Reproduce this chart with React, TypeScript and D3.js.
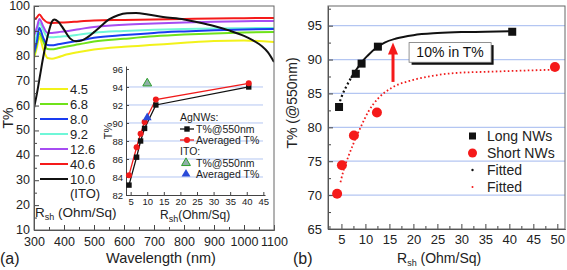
import React, { useRef, useEffect } from "react";
import * as d3 from "d3";

const FONT = "'Liberation Sans', Arial, sans-serif";

// ---- panel (a): transmittance spectra ----
const agWavelengths = [300, 310, 318, 330, 345, 360, 380, 400, 450, 500, 600, 700, 800, 900, 1000, 1100];
const t45 = [79, 83.5, 87.6, 83, 79.1, 78.8, 79.4, 80.2, 81.5, 82.5, 83.6, 84.4, 85.2, 85.9, 86.1, 85.5];
const t68 = [80, 85, 89.2, 86, 82.7, 82.6, 83.0, 83.5, 84.6, 85.7, 86.8, 87.8, 88.5, 89.0, 89.4, 89.6];
const t80 = [81, 86, 91.2, 87.5, 84.3, 84.2, 84.6, 85.0, 86.1, 87.2, 88.3, 89.2, 89.8, 90.3, 90.6, 90.8];
const t92 = [84, 89, 93.4, 90.5, 87.6, 87.4, 87.6, 87.8, 88.5, 89.3, 90.0, 90.5, 90.8, 91.0, 91.1, 91.2];
const t126 = [88, 91.5, 94.8, 92, 89.2, 89.2, 89.5, 89.8, 90.7, 91.6, 92.5, 93.0, 93.4, 93.7, 93.9, 94.0];
const t406 = [94.5, 95.5, 96.6, 94.8, 93.4, 93.2, 93.3, 93.4, 93.8, 94.2, 94.4, 94.6, 94.8, 95.0, 95.1, 95.2];

const itoWavelengths = [300, 310, 320, 330, 340, 350, 360, 368, 380, 400, 420, 440, 460, 480, 500, 520, 550, 580, 610, 640, 680, 730, 800, 850, 900, 950, 1000, 1030, 1060, 1080, 1100];
const tITO = [59, 65, 72, 79, 85, 90, 93.8, 94.6, 93.8, 90.5, 87, 85.8, 86.2, 87.6, 89.5, 91.6, 94.6, 96.3, 97.1, 97.2, 96.6, 95.6, 94.6, 93.4, 92.0, 90.2, 88, 86.2, 83.8, 81.4, 77.5];

const legendLabels = ["4.5", "6.8", "8.0", "9.2", "12.6", "40.6", "10.0"];
const seriesColors = ["#f2f21a", "#6fe21a", "#1a3cf0", "#6ff7d8", "#a64cf2", "#f51a1a", "#111111"];

// ---- inset: T% vs Rsh ----
const insetRsh = [4.5, 6.8, 8.0, 9.2, 12.6, 40.6];
const insetT550 = [83.1, 86.2, 88.0, 89.4, 92.0, 94.0];
const insetTavg = [84.2, 87.3, 88.8, 90.1, 92.6, 94.4];
const itoRsh = [10.0];
const itoT550 = [94.4];
const itoTavg = [90.6];

// ---- panel (b) ----
const longRsh = [4.5, 8.0, 9.2, 12.6, 40.6];
const longT = [83.0, 87.9, 89.4, 91.9, 94.1];
const shortRsh = [4.1, 5.1, 7.6, 12.4, 49.5];
const shortT = [70.2, 74.4, 78.8, 82.2, 88.9];
const longFitRsh = [4.4, 5.3, 6.0, 7.0, 8.0, 9.2, 10.5, 12.2, 14, 16.4, 20, 25, 30, 35, 40.6];
const longFitT = [83.2, 85.0, 86.0, 87.3, 88.4, 89.6, 90.6, 91.7, 92.5, 93.1, 93.6, 93.9, 94.05, 94.1, 94.2];
const shortFitRsh = [4.8, 5.5, 6.5, 7.5, 9, 10.6, 12.7, 15.4, 20, 24, 28.5, 35.6, 42, 49.5];
const shortFitT = [71.9, 73.8, 75.8, 77.6, 80.0, 82.3, 84.3, 85.8, 87.0, 87.6, 88.0, 88.2, 88.35, 88.5];
const legendB = ["Long NWs", "Short NWs", "Fitted", "Fitted"];

const App = () => {
  const container = useRef<SVGSVGElement | null>(null);

  useEffect(() => {
    createChart();
  });

  const createChart = () => {
    const svg = d3.select(container.current);
    svg.selectAll("*").remove();
    const axisColor = "#444";
    const grid = "#b4c6f2";

    const styleAxis = (g: any, size: number) => {
      g.attr("font-family", FONT).attr("font-size", size);
      g.selectAll("line,path").attr("stroke", axisColor);
      g.selectAll("text").attr("fill", "#222");
    };

    // ================= panel (a) =================
    const xA = d3.scaleLinear().domain([300, 1100]).range([34, 274]);
    const yA = d3.scaleLinear().domain([10, 100]).range([230, 6]);

    svg.append("clipPath").attr("id", "clipA").append("rect")
      .attr("x", 34).attr("y", 6).attr("width", 240).attr("height", 224);

    const specG = svg.append("g").attr("clip-path", "url(#clipA)");
    const specLine = d3.line<[number, number]>()
      .x((d) => xA(d[0])).y((d) => yA(d[1])).curve(d3.curveMonotoneX);

    const agSeries = [t45, t68, t80, t92, t126, t406];
    // draw order so that red lies on top
    [0, 1, 3, 2, 4, 5].forEach((i) => {
      specG.append("path")
        .datum(agWavelengths.map((w, j) => [w, agSeries[i][j]] as [number, number]))
        .attr("d", specLine)
        .attr("fill", "none")
        .attr("stroke", seriesColors[i])
        .attr("stroke-width", 2);
    });
    specG.append("path")
      .datum(itoWavelengths.map((w, j) => [w, tITO[j]] as [number, number]))
      .attr("d", specLine)
      .attr("fill", "none")
      .attr("stroke", seriesColors[6])
      .attr("stroke-width", 2);

    // axes (a)
    const axBot = svg.append("g").attr("transform", "translate(0,230)")
      .call(d3.axisBottom(xA).tickValues(d3.range(300, 1101, 100)).tickSize(-5).tickSizeOuter(0).tickPadding(7).tickFormat(d3.format("d")));
    styleAxis(axBot, 12.5);
    svg.append("g").attr("transform", "translate(0,230)")
      .call(d3.axisBottom(xA).tickValues(d3.range(350, 1100, 100)).tickSize(-3).tickSizeOuter(0).tickFormat(() => ""))
      .call((g: any) => styleAxis(g, 13));
    const axLeft = svg.append("g").attr("transform", "translate(34,0)")
      .call(d3.axisLeft(yA).tickValues(d3.range(10, 101, 10)).tickSize(-5).tickSizeOuter(0).tickPadding(4));
    styleAxis(axLeft, 12.5);
    axLeft.selectAll("text").attr("dy", "0.28em");
    svg.append("g").attr("transform", "translate(34,0)")
      .call(d3.axisLeft(yA).tickValues(d3.range(15, 100, 10)).tickSize(-3).tickSizeOuter(0).tickFormat(() => ""))
      .call((g: any) => styleAxis(g, 13));
    svg.append("rect").attr("x", 34).attr("y", 6).attr("width", 240).attr("height", 224)
      .attr("fill", "none").attr("stroke", "#666").attr("stroke-width", 1);

    // legend (a)
    const legA = svg.append("g").attr("font-family", FONT).attr("font-size", 13).attr("fill", "#222");
    legendLabels.forEach((lab, i) => {
      const y = 89 + i * 15;
      legA.append("line").attr("x1", 40).attr("x2", 68).attr("y1", y).attr("y2", y)
        .attr("stroke", seriesColors[i]).attr("stroke-width", 2);
      legA.append("text").attr("x", 70).attr("y", y + 5).text(lab);
    });
    legA.append("text").attr("x", 70).attr("y", 198).text("(ITO)");
    const rshA = legA.append("text").attr("x", 35).attr("y", 217).attr("font-size", 13.5);
    rshA.append("tspan").text("R");
    rshA.append("tspan").attr("font-size", 9).attr("dy", 3).text("sh");
    rshA.append("tspan").attr("dy", -3).text(" (Ohm/Sq)");

    // titles (a)
    svg.append("text").attr("transform", "translate(13,118) rotate(-90)")
      .attr("text-anchor", "middle").attr("font-family", FONT).attr("font-size", 14).attr("fill", "#222").text("T%");
    svg.append("text").attr("x", 161).attr("y", 263).attr("text-anchor", "middle")
      .attr("font-family", FONT).attr("font-size", 14.5).attr("fill", "#222").text("Wavelength (nm)");
    svg.append("text").attr("x", 0).attr("y", 264).attr("font-family", FONT).attr("font-size", 16).attr("fill", "#222").text("(a)");

    // ================= inset =================
    const xI = d3.scaleLinear().domain([3.6, 45.5]).range([126, 265]);
    const yI = d3.scaleLinear().domain([82, 96.33]).range([195, 66]);

    const insG = svg.append("g");
    d3.range(84, 95, 2).forEach((v) => {
      insG.append("line").attr("x1", 126).attr("x2", 263).attr("y1", yI(v)).attr("y2", yI(v))
        .attr("stroke", grid).attr("stroke-width", 1);
    });
    const iBot = insG.append("g").attr("transform", "translate(0,195)")
      .call(d3.axisBottom(xI).tickValues(d3.range(5, 46, 5)).tickSize(-3).tickSizeOuter(0).tickPadding(3));
    styleAxis(iBot, 9.5);
    const iLeft = insG.append("g").attr("transform", "translate(126,0)")
      .call(d3.axisLeft(yI).tickValues(d3.range(82, 97, 2)).tickSize(-3).tickSizeOuter(0).tickPadding(3));
    styleAxis(iLeft, 9.5);

    const insLine = d3.line<[number, number]>().x((d) => xI(d[0])).y((d) => yI(d[1]));
    insG.append("path").datum(insetRsh.map((r, i) => [r, insetT550[i]] as [number, number]))
      .attr("d", insLine).attr("fill", "none").attr("stroke", "#111").attr("stroke-width", 1.3);
    insG.append("path").datum(insetRsh.map((r, i) => [r, insetTavg[i]] as [number, number]))
      .attr("d", insLine).attr("fill", "none").attr("stroke", "#f01a1a").attr("stroke-width", 1.3);
    insG.selectAll(".isq").data(insetRsh).join("rect").attr("class", "isq")
      .attr("x", (d) => xI(d) - 2.7).attr("y", (d, i) => yI(insetT550[i]) - 2.7)
      .attr("width", 5.4).attr("height", 5.4).attr("fill", "#111");
    insG.selectAll(".icirc").data(insetRsh).join("circle").attr("class", "icirc")
      .attr("cx", (d) => xI(d)).attr("cy", (d, i) => yI(insetTavg[i])).attr("r", 3)
      .attr("fill", "#f01a1a");

    const tri = d3.symbol().type(d3.symbolTriangle).size(34);
    insG.selectAll(".itri1").data(itoRsh).join("path").attr("class", "itri1")
      .attr("d", tri).attr("transform", (d, i) => `translate(${xI(d)},${yI(itoTavg[i])})`)
      .attr("fill", "#2a4ad8");
    insG.selectAll(".itri2").data(itoRsh).join("path").attr("class", "itri2")
      .attr("d", tri).attr("transform", (d, i) => `translate(${xI(d)},${yI(itoT550[i])})`)
      .attr("fill", "#8fb0a8").attr("stroke", "#2fa02f").attr("stroke-width", 1);

    // inset legend
    const legI = insG.append("g").attr("font-family", FONT).attr("font-size", 10.5).attr("fill", "#222");
    legI.append("text").attr("x", 180).attr("y", 121).text("AgNWs:");
    legI.append("line").attr("x1", 180).attr("x2", 194).attr("y1", 129).attr("y2", 129).attr("stroke", "#111").attr("stroke-width", 1.3);
    legI.append("rect").attr("x", 184.3).attr("y", 126.3).attr("width", 5.4).attr("height", 5.4).attr("fill", "#111");
    legI.append("text").attr("x", 196).attr("y", 133).text("T%@550nm");
    legI.append("line").attr("x1", 180).attr("x2", 194).attr("y1", 140).attr("y2", 140).attr("stroke", "#f01a1a").attr("stroke-width", 1.3);
    legI.append("circle").attr("cx", 187).attr("cy", 140).attr("r", 3).attr("fill", "#f01a1a");
    legI.append("text").attr("x", 196).attr("y", 144).text("Averaged T%");
    legI.append("text").attr("x", 180).attr("y", 155).text("ITO:");
    legI.append("path").attr("d", tri).attr("transform", "translate(186,163)")
      .attr("fill", "#8fb0a8").attr("stroke", "#2fa02f").attr("stroke-width", 1);
    legI.append("text").attr("x", 196).attr("y", 167).text("T%@550nm");
    legI.append("path").attr("d", tri).attr("transform", "translate(186,174)").attr("fill", "#2a4ad8");
    legI.append("text").attr("x", 196).attr("y", 178).text("Averaged T%");

    const rshI = insG.append("text").attr("x", 160).attr("y", 219).attr("font-family", FONT).attr("font-size", 12).attr("fill", "#222");
    rshI.append("tspan").text("R");
    rshI.append("tspan").attr("font-size", 9).attr("dy", 3).text("sh");
    rshI.append("tspan").attr("dy", -3).text("(Ohm/Sq)");
    insG.append("text").attr("transform", "translate(112,131) rotate(-90)").attr("text-anchor", "middle")
      .attr("font-family", FONT).attr("font-size", 11).attr("fill", "#222").text("T%");

    // ================= panel (b) =================
    const xB = d3.scaleLinear().domain([2.2, 51.6]).range([328, 565]);
    const yB = d3.scaleLinear().domain([65, 97.9]).range([229, 6]);

    d3.range(70, 96, 5).forEach((v) => {
      svg.append("line").attr("x1", 328).attr("x2", 565).attr("y1", yB(v)).attr("y2", yB(v))
        .attr("stroke", grid).attr("stroke-width", 1.2);
    });

    const bBot = svg.append("g").attr("transform", "translate(0,229)")
      .call(d3.axisBottom(xB).tickValues(d3.range(5, 51, 5)).tickSize(-5).tickSizeOuter(0).tickPadding(6));
    styleAxis(bBot, 13);
    svg.append("g").attr("transform", "translate(0,229)")
      .call(d3.axisBottom(xB).tickValues(d3.range(2.5, 51, 5)).tickSize(-3).tickSizeOuter(0).tickFormat(() => ""))
      .call((g: any) => styleAxis(g, 13));
    const bLeft = svg.append("g").attr("transform", "translate(328,0)")
      .call(d3.axisLeft(yB).tickValues(d3.range(65, 96, 5)).tickSize(-5).tickSizeOuter(0).tickPadding(6));
    styleAxis(bLeft, 13);
    svg.append("g").attr("transform", "translate(328,0)")
      .call(d3.axisLeft(yB).tickValues(d3.range(67.5, 98, 5)).tickSize(-3).tickSizeOuter(0).tickFormat(() => ""))
      .call((g: any) => styleAxis(g, 13));
    svg.append("rect").attr("x", 328).attr("y", 6).attr("width", 237).attr("height", 223)
      .attr("fill", "none").attr("stroke", "#666").attr("stroke-width", 1);

    const fitLine = d3.line<[number, number]>().x((d) => xB(d[0])).y((d) => yB(d[1])).curve(d3.curveMonotoneX);
    const longFit = longFitRsh.map((r, i) => [r, longFitT[i]] as [number, number]);
    svg.append("path").datum(longFit.filter((d) => d[0] <= 7.1))
      .attr("d", fitLine).attr("fill", "none").attr("stroke", "#111").attr("stroke-width", 2.2)
      .attr("stroke-dasharray", "2 2.6");
    svg.append("path").datum(longFit.filter((d) => d[0] >= 7.0))
      .attr("d", fitLine).attr("fill", "none").attr("stroke", "#111").attr("stroke-width", 2);
    svg.append("path").datum(shortFitRsh.map((r, i) => [r, shortFitT[i]] as [number, number]))
      .attr("d", fitLine).attr("fill", "none").attr("stroke", "#f01a1a").attr("stroke-width", 1.8)
      .attr("stroke-dasharray", "1.6 2.4");

    svg.selectAll(".bsq").data(longRsh).join("rect").attr("class", "bsq")
      .attr("x", (d) => xB(d) - 4).attr("y", (d, i) => yB(longT[i]) - 4)
      .attr("width", 8).attr("height", 8).attr("fill", "#111");
    svg.selectAll(".bcirc").data(shortRsh).join("circle").attr("class", "bcirc")
      .attr("cx", (d) => xB(d)).attr("cy", (d, i) => yB(shortT[i])).attr("r", 5)
      .attr("fill", "#f51a1a");

    // arrow
    const arrowX = xB(15.75);
    const arrowY0 = yB(86.7);
    const arrowY1 = yB(92.5);
    svg.append("line").attr("x1", arrowX).attr("x2", arrowX).attr("y1", arrowY0).attr("y2", arrowY1 + 10)
      .attr("stroke", "#f51a1a").attr("stroke-width", 3);
    svg.append("path")
      .attr("d", `M${arrowX},${arrowY1} L${arrowX - 5},${arrowY1 + 12} L${arrowX + 5},${arrowY1 + 12} Z`)
      .attr("fill", "#f51a1a");

    // annotation box
    const bx0 = xB(19.1), bx1 = xB(36.2), by0 = yB(92.5), by1 = yB(89.6);
    svg.append("rect").attr("x", bx0 + 2.5).attr("y", by0 + 2.5).attr("width", bx1 - bx0).attr("height", by1 - by0).attr("fill", "#111");
    svg.append("rect").attr("x", bx0).attr("y", by0).attr("width", bx1 - bx0).attr("height", by1 - by0)
      .attr("fill", "#fff").attr("stroke", "#777").attr("stroke-width", 0.8);
    svg.append("text").attr("x", (bx0 + bx1) / 2).attr("y", (by0 + by1) / 2 + 5).attr("text-anchor", "middle")
      .attr("font-family", FONT).attr("font-size", 14).attr("fill", "#111").text("10% in T%");

    // legend (b)
    const legB = svg.append("g").attr("font-family", FONT).attr("font-size", 14).attr("fill", "#222");
    legendB.forEach((lab, i) => {
      const y = 136 + i * 17;
      if (i === 0) legB.append("rect").attr("x", 469).attr("y", y - 3.5).attr("width", 7).attr("height", 7).attr("fill", "#111");
      if (i === 1) legB.append("circle").attr("cx", 472.5).attr("cy", y).attr("r", 4.5).attr("fill", "#f51a1a");
      if (i === 2) legB.append("circle").attr("cx", 472.5).attr("cy", y).attr("r", 1.2).attr("fill", "#111");
      if (i === 3) legB.append("circle").attr("cx", 472.5).attr("cy", y).attr("r", 1).attr("fill", "#f51a1a");
      legB.append("text").attr("x", 487).attr("y", y + 5).text(lab);
    });

    // titles (b)
    svg.append("text").attr("transform", "translate(297,103) rotate(-90)").attr("text-anchor", "middle")
      .attr("font-family", FONT).attr("font-size", 14).attr("fill", "#222").text("T% (@550nm)");
    const rshB = svg.append("text").attr("x", 397).attr("y", 263).attr("font-family", FONT).attr("font-size", 14).attr("fill", "#222");
    rshB.append("tspan").text("R");
    rshB.append("tspan").attr("font-size", 9).attr("dy", 3).text("sh");
    rshB.append("tspan").attr("dy", -3).text(" (Ohm/Sq)");
    svg.append("text").attr("x", 293).attr("y", 264).attr("font-family", FONT).attr("font-size", 16).attr("fill", "#222").text("(b)");
  };

  return (
    <svg
      ref={container}
      width={567}
      height={270}
      style={{ position: "absolute", left: 0, top: 0, background: "#fff" }}
    ></svg>
  );
};

export default App;
